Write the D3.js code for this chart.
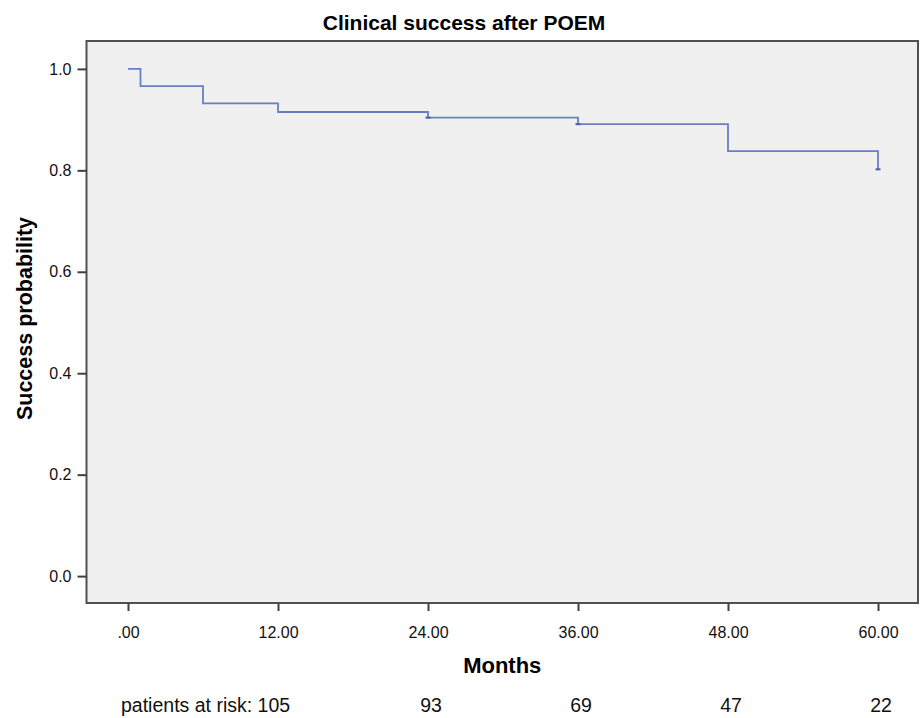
<!DOCTYPE html>
<html>
<head>
<meta charset="utf-8">
<script src="https://cdn.jsdelivr.net/npm/d3@7"></script>
<style>
  html, body { margin: 0; padding: 0; background: #ffffff; }
  svg { display: block; font-family: Arial, "Liberation Sans", sans-serif; }
</style>
</head>
<body>
<svg id="chart" width="921" height="718"></svg>
<script>
// ---- Data ----
const months = [0, 1, 6, 12, 24, 36, 48, 60];
const successProb = [1.0, 0.966, 0.932, 0.915, 0.904, 0.891, 0.838, 0.802];
const xTicks = [0, 12, 24, 36, 48, 60];
const yTicks = [0.0, 0.2, 0.4, 0.6, 0.8, 1.0];
const riskMonths = [24, 36, 48, 60];
const riskCounts = [93, 69, 47, 22];
const firstRiskLabel = "patients at risk: 105";
const title = "Clinical success after POEM";
const xLabel = "Months";
const yLabel = "Success probability";

// ---- Layout ----
const svg = d3.select("#chart");
const frame = { left: 86.5, right: 918, top: 41, bottom: 603 };

const x = d3.scaleLinear().domain([-3.32, 63.2]).range([frame.left, frame.right]);
const y = d3.scaleLinear().domain([-0.053, 1.055]).range([frame.bottom, frame.top]);

// plot background
svg.append("rect")
  .attr("x", frame.left).attr("y", frame.top)
  .attr("width", frame.right - frame.left).attr("height", frame.bottom - frame.top)
  .attr("fill", "#f0f0f0");

// curve
const pts = months.map((m, i) => [m, successProb[i]]);
const line = d3.line().x(d => x(d[0])).y(d => y(d[1])).curve(d3.curveStepAfter);
svg.append("path")
  .datum(pts)
  .attr("d", line)
  .attr("fill", "none")
  .attr("stroke", "#6a7ec6")
  .attr("stroke-width", 1.8);

// small censor ticks at the foot of some drops
const censorIdx = [4, 5, 7];
svg.selectAll("line.censor")
  .data(censorIdx)
  .join("line")
  .attr("class", "censor")
  .attr("x1", i => x(months[i]) - 2.5)
  .attr("x2", i => x(months[i]) + 2.5)
  .attr("y1", i => y(successProb[i]))
  .attr("y2", i => y(successProb[i]))
  .attr("stroke", "#4a5fb0")
  .attr("stroke-width", 2);

// frame border
svg.append("rect")
  .attr("x", frame.left).attr("y", frame.top)
  .attr("width", frame.right - frame.left).attr("height", frame.bottom - frame.top)
  .attr("fill", "none")
  .attr("stroke", "#505050")
  .attr("stroke-width", 2);

// x axis
const xAxis = d3.axisBottom(x).tickValues(xTicks).tickSize(8).tickPadding(16)
  .tickFormat(d => d === 0 ? ".00" : d3.format(".2f")(d));
const gx = svg.append("g").attr("transform", `translate(0,${frame.bottom})`).call(xAxis);
gx.select(".domain").remove();
gx.selectAll(".tick line").attr("stroke", "#404040").attr("stroke-width", 2);
gx.selectAll(".tick text").attr("fill", "#111").attr("font-size", 16);

// y axis
const yAxis = d3.axisLeft(y).tickValues(yTicks).tickSize(9).tickPadding(6)
  .tickFormat(d3.format(".1f"));
const gy = svg.append("g").attr("transform", `translate(${frame.left},0)`).call(yAxis);
gy.select(".domain").remove();
gy.selectAll(".tick line").attr("stroke", "#404040").attr("stroke-width", 2);
gy.selectAll(".tick text").attr("fill", "#111").attr("font-size", 16);

// title
svg.append("text")
  .attr("x", 464).attr("y", 30)
  .attr("text-anchor", "middle")
  .attr("font-size", 21).attr("font-weight", "bold").attr("fill", "#000")
  .text(title);

// x label
svg.append("text")
  .attr("x", (frame.left + frame.right) / 2).attr("y", 673)
  .attr("text-anchor", "middle")
  .attr("font-size", 22).attr("font-weight", "bold").attr("fill", "#000")
  .text(xLabel);

// y label
svg.append("text")
  .attr("transform", `translate(32,${318.5}) rotate(-90)`)
  .attr("text-anchor", "middle")
  .attr("font-size", 21.5).attr("font-weight", "bold").attr("fill", "#000")
  .text(yLabel);

// patients at risk
svg.append("text")
  .attr("x", 121).attr("y", 712)
  .attr("font-size", 19.5).attr("fill", "#111")
  .text(firstRiskLabel);
svg.selectAll("text.risk")
  .data(riskMonths)
  .join("text")
  .attr("class", "risk")
  .attr("x", d => x(d) + 3)
  .attr("y", 712)
  .attr("text-anchor", "middle")
  .attr("font-size", 19.5).attr("fill", "#111")
  .text((d, i) => riskCounts[i]);
</script>
</body>
</html>
